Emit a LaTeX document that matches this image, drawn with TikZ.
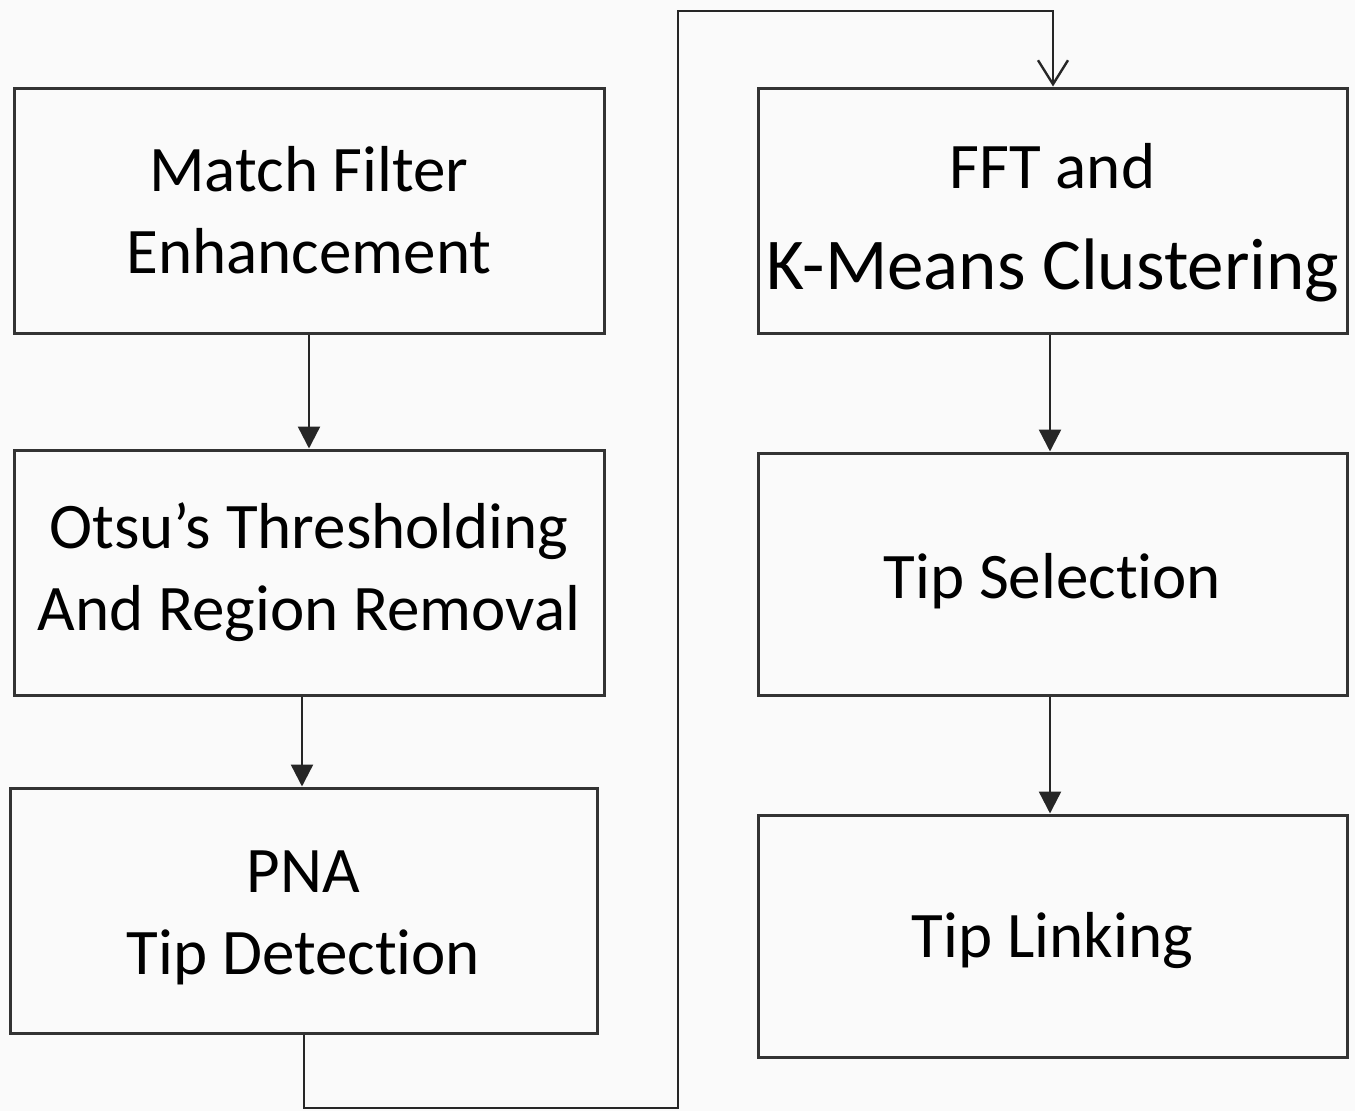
\documentclass[tikz,border=0pt]{standalone}
\usepackage{fontspec}
\setmainfont{Carlito}[Ligatures=NoCommon]
\usetikzlibrary{arrows.meta}
\newcommand{\lowerby}[2]{\raisebox{-#1}[\height][\depth]{#2}}
\begin{document}
\begin{tikzpicture}[x=1pt,y=-1pt,
  box/.style={draw=black!80,line width=3pt,minimum width=#1,align=center,inner sep=0pt,
    font=\fontsize{65}{82}\selectfont},
  flow/.style={draw=black!85,line width=2.4pt,-{Triangle[length=22pt,width=22pt]}},
  openflow/.style={draw=black!85,line width=2.4pt,-{Straight Barb[length=24pt,width=30pt,line width=2.4pt]}}]
\useasboundingbox (0,0) rectangle (1355,1111);
\fill[white!98!black] (0,0) rectangle (1355,1111);
\node[box=590pt,minimum height=245pt] (b1) at (309,210.5) {Match Filter\\Enhancement};
\node[box=590pt,minimum height=245pt] (b2) at (309,572.5) {Otsu’s Thresholding\\And Region Removal};
\node[box=587pt,minimum height=245pt] (b3) at (303.5,910.5) {\lowerby{7pt}{\begin{tabular}{@{}c@{}}PNA\\Tip Detection\end{tabular}}};
\node[box=589pt,minimum height=245pt] (b4) at (1052.5,210.5) {\lowerby{12pt}{\begin{tabular}{@{}c@{}}FFT and\\[19pt]{\fontsize{73}{82}\selectfont K-Means Clustering}\end{tabular}}};
\node[box=589pt,minimum height=242pt] (b5) at (1052.5,574) {\lowerby{7pt}{Tip Selection}};
\node[box=589pt,minimum height=242pt] (b6) at (1052.5,936) {\lowerby{5pt}{Tip Linking}};
\coordinate (c1) at (304,1108);
\coordinate (c2) at (678,1108);
\coordinate (c3) at (678,11);
\coordinate (c4) at (1053,11);
\coordinate (a2) at (302,0);
\coordinate (a4) at (1050,0);
\draw[flow] (b1) -- (b2);
\draw[flow] (b2.south -| a2) -- (b3.north -| a2);
\draw[flow] (b4.south -| a4) -- (b5.north -| a4);
\draw[flow] (b5.south -| a4) -- (b6.north -| a4);
\draw[openflow] (b3.south -| c1) -- (c1) -- (c2) -- (c3) -- (c4) -- (b4.north -| c4);
\end{tikzpicture}
\end{document}
